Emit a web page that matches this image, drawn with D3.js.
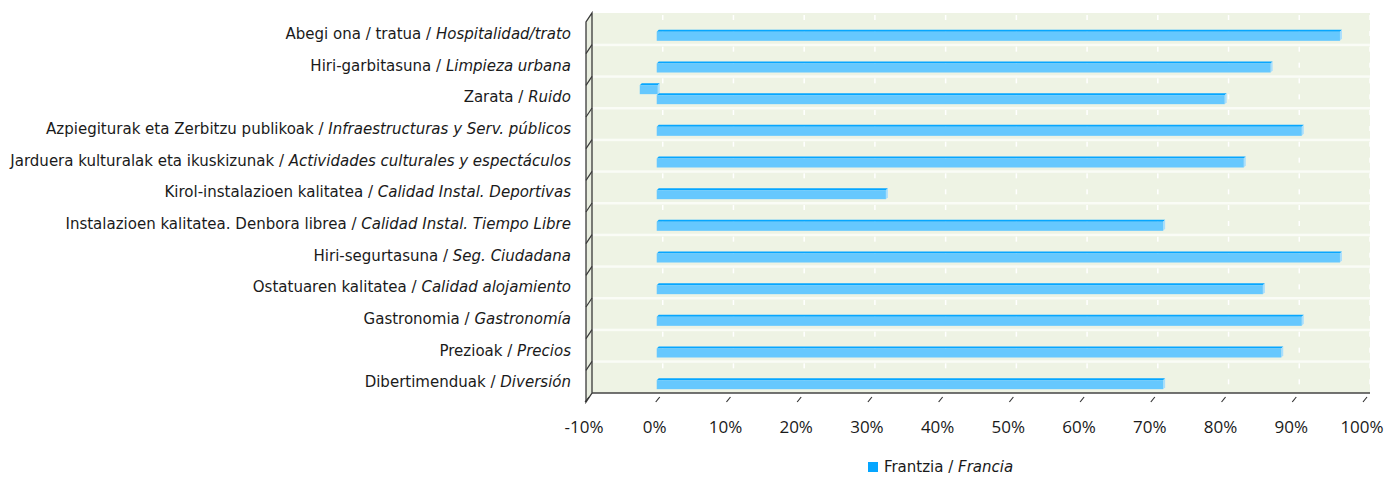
<!DOCTYPE html>
<html>
<head>
<meta charset="utf-8">
<script src="https://cdn.jsdelivr.net/npm/d3@7"></script>
<style>
  body { margin: 0; background: #fff; }
  .cat { font-family: "Liberation Sans Narrow", "DejaVu Sans Condensed", sans-serif; font-size: 16.7px; fill: #1a1a1a; }
  .tick-label { font-family: "Open Sans", sans-serif; font-size: 17px; fill: #1a1a1a; }
</style>
</head>
<body>
<div id="chart"></div>
<script>
// ---- data ----
const catsEu = [
  "Abegi ona / tratua", "Hiri-garbitasuna", "Zarata",
  "Azpiegiturak eta Zerbitzu publikoak", "Jarduera kulturalak eta ikuskizunak",
  "Kirol-instalazioen kalitatea", "Instalazioen kalitatea. Denbora librea",
  "Hiri-segurtasuna", "Ostatuaren kalitatea", "Gastronomia", "Prezioak", "Dibertimenduak"
];
const catsEs = [
  "Hospitalidad/trato", "Limpieza urbana", "Ruido",
  "Infraestructuras y Serv. públicos", "Actividades culturales y espectáculos",
  "Calidad Instal. Deportivas", "Calidad Instal. Tiempo Libre",
  "Seg. Ciudadana", "Calidad alojamiento", "Gastronomía", "Precios", "Diversión"
];
const francia = [96.6, 86.8, 80.3, 91.2, 83.0, 32.4, 71.6, 96.6, 85.7, 91.2, 88.3, 71.6];
// small negative piece shown on the "Zarata" row
const negative = [null, null, -2.4, null, null, null, null, null, null, null, null, null];
const xTicks = [-10, 0, 10, 20, 30, 40, 50, 60, 70, 80, 90, 100];

// ---- layout ----
const W = 1386, H = 477;
const depthX = 6, depthY = 9;
const plotTop = 13, plotFloor = 393;

const svg = d3.select('#chart').append('svg')
  .attr('width', W).attr('height', H);

const xBack = d3.scaleLinear().domain([-10, 100]).range([592, 1370]);
const xFront = v => xBack(v) - depthX;
const y = d3.scaleBand().domain(d3.range(catsEu.length)).range([plotTop, plotFloor]);
const bw = y.bandwidth();

// back wall
svg.append('rect')
  .attr('x', xBack(-10)).attr('y', plotTop)
  .attr('width', xBack(100) - xBack(-10)).attr('height', plotFloor - plotTop)
  .attr('fill', '#eef3e4');

// band separators
svg.selectAll('.sep')
  .data(d3.range(1, catsEu.length))
  .join('rect')
  .attr('x', xBack(-10)).attr('y', d => y(d) - 1)
  .attr('width', xBack(100) - xBack(-10)).attr('height', 2.5)
  .attr('fill', '#fafcf6');

// short white grid dashes
const dashes = [];
catsEu.forEach((c, i) => xTicks.slice(1).forEach(t => {
  dashes.push({ x: xBack(t), y: y(i) + 2 });
  dashes.push({ x: xBack(t), y: y(i) + 18 });
}));
svg.selectAll('.dash')
  .data(dashes)
  .join('rect')
  .attr('x', d => d.x - 0.75).attr('y', d => d.y)
  .attr('width', 1.5).attr('height', 5)
  .attr('fill', '#ffffff');

// left wall
const wl = xBack(-10);
svg.append('path')
  .attr('d', `M${wl},${plotTop} L${wl},${plotFloor} L${wl - depthX},${plotFloor + depthY} L${wl - depthX},${plotTop + depthY} Z`)
  .attr('fill', '#e9eee0').attr('stroke', '#3a3a3a').attr('stroke-width', 1.3);
svg.selectAll('.wall-div')
  .data(d3.range(1, catsEu.length))
  .join('line')
  .attr('x1', wl).attr('y1', d => y(d))
  .attr('x2', wl - depthX).attr('y2', d => y(d) + depthY)
  .attr('stroke', '#3a3a3a').attr('stroke-width', 1.2);

// floor line
svg.append('line')
  .attr('x1', wl).attr('x2', xBack(100))
  .attr('y1', plotFloor).attr('y2', plotFloor)
  .attr('stroke', '#444').attr('stroke-width', 1.5);

// x ticks and labels
svg.selectAll('.xtick')
  .data(xTicks)
  .join('line')
  .attr('x1', d => xFront(d) + 3).attr('y1', plotFloor + 4)
  .attr('x2', d => xFront(d) - 1).attr('y2', plotFloor + 9)
  .attr('stroke', '#333').attr('stroke-width', 1.2);
svg.selectAll('.tick-label')
  .data(xTicks)
  .join('text')
  .attr('class', 'tick-label')
  .attr('x', d => xFront(d) - 2).attr('y', 433)
  .attr('text-anchor', 'middle')
  .text(d => d + '%');

// bars (3D-ish)
const bh = 9, bd = 2;
function drawBar(g, x0, x1, yTop) {
  // top face
  g.append('path')
    .attr('d', `M${x0},${yTop} L${x0 + bd},${yTop - bd} L${x1 + bd},${yTop - bd} L${x1},${yTop} Z`)
    .attr('fill', '#06a6ff');
  // side face
  g.append('path')
    .attr('d', `M${x1},${yTop} L${x1 + bd},${yTop - bd} L${x1 + bd},${yTop + bh - bd} L${x1},${yTop + bh} Z`)
    .attr('fill', '#a9defc');
  // front face
  g.append('rect')
    .attr('x', x0).attr('y', yTop)
    .attr('width', x1 - x0).attr('height', bh)
    .attr('fill', '#66c8fe');
}

const bars = svg.append('g');
francia.forEach((v, i) => {
  const yTop = y(i) + bw / 2 + 3;
  drawBar(bars, xFront(0), xFront(v), yTop);
});
negative.forEach((v, i) => {
  if (v == null) return;
  const yTop = y(i) + bw / 2 - 7;
  drawBar(bars, xFront(v), xFront(0) + 1, yTop);
});

// category labels
const labels = svg.selectAll('.cat')
  .data(catsEu)
  .join('text')
  .attr('class', 'cat')
  .attr('x', 571)
  .attr('y', (d, i) => y(i) + bw / 2 + 10)
  .attr('text-anchor', 'end');
labels.append('tspan').text(d => d + ' / ');
labels.append('tspan').attr('font-style', 'italic').text((d, i) => catsEs[i]);

// legend
const legend = svg.append('g');
legend.append('rect')
  .attr('x', 868).attr('y', 462).attr('width', 10).attr('height', 10)
  .attr('fill', '#06a6ff');
const lt = legend.append('text')
  .attr('class', 'cat')
  .attr('x', 884).attr('y', 472);
lt.append('tspan').text('Frantzia / ');
lt.append('tspan').attr('font-style', 'italic').text('Francia');
</script>
</body>
</html>
